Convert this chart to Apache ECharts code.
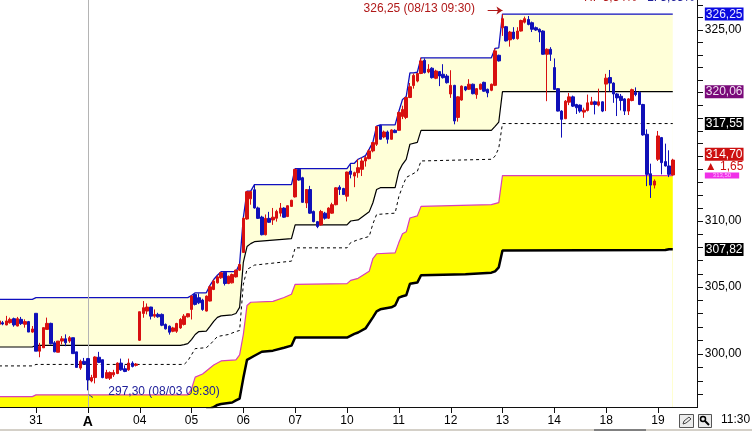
<!DOCTYPE html>
<html><head><meta charset="utf-8">
<style>html,body{margin:0;padding:0;background:#fff;overflow:hidden}#c{width:752px;height:431px}</style>
<script src="https://cdn.jsdelivr.net/npm/echarts@6/dist/echarts.min.js"></script>
</head><body><div id="c"></div>
<script>
const dayLabels=['31','A','04','05','06','07','10','11','12','13','14','18','19'];
const dayStartIndex=[10,24,38,52,66,80,94,108,122,136,150,164,178];
const slotCount=189;
// each bar: open, close, low, high
const ohlc=[
[302.19,302.44,302.1,302.6],[302.31,302.21,302.12,302.44],[302.14,302.44,302.12,302.82],[302.31,302.56,302.24,302.69],[302.61,302.14,302.01,302.69],[302.06,302.61,302.04,302.74],[302.56,302.24,302.14,302.74],[302.19,302.39,301.94,302.56],[302.39,301.61,301.61,302.44],[301.61,301.84,301.56,302.06],
[303.01,300.19,300.19,303.01],[300.19,300.56,299.74,300.81],[300.44,301.94,300.44,301.94],[301.81,302.26,301.81,302.69],[302.26,300.74,300.69,302.31],[300.81,300.14,300.11,300.94],[300.11,300.94,300.11,300.94],[300.94,301.11,300.69,301.31],[301.11,300.81,300.56,301.44],[300.94,301.19,300.81,301.31],[301.19,300.01,300.01,301.19],[300.14,298.99,298.99,300.14],[298.94,299.44,298.81,299.56],[299.44,299.24,299.19,299.69],
[299.64,298.06,297.3,299.69],[297.99,298.24,297.89,298.44],[298.24,299.76,297.81,299.81],[299.74,299.36,299.31,300.14],[299.56,298.24,298.19,299.56],[298.19,298.61,298.14,298.81],[298.19,298.61,298.06,298.69],[298.44,298.61,298.29,298.81],[298.54,299.31,298.49,299.36],[299.31,298.81,298.74,299.64],[298.89,298.69,298.64,299.14],[298.81,299.31,298.74,299.64],[299.31,299.06,298.99,299.44],[299.14,299.24,299.06,299.31],
[301.0,303.13,300.95,303.13],[303.0,303.43,302.68,303.93],[303.18,303.48,302.93,303.75],[303.48,302.8,302.55,303.5],[302.8,302.93,302.68,303.3],[302.93,302.75,302.68,303.05],[302.93,302.12,302.05,303.0],[302.18,301.85,301.8,302.25],[302.05,301.6,301.42,302.1],[301.67,301.92,301.6,302.0],[301.67,302.25,301.55,302.3],[301.92,302.55,301.85,302.65],[302.18,302.8,302.1,302.95],[302.75,302.98,302.7,303.0],
[303.3,304.3,302.55,304.35],[304.43,303.68,303.6,304.5],[304.18,303.8,303.7,304.5],[304.0,303.3,303.2,304.1],[303.18,304.3,303.15,304.35],[303.93,305.0,303.9,305.1],[304.8,305.43,304.75,305.55],[305.3,305.75,305.25,305.85],[305.68,306.06,305.6,306.1],[306.1,305.25,305.1,306.13],[305.25,305.8,305.2,305.85],[305.3,305.93,305.25,306.0],[305.75,306.26,305.7,306.3],[306.26,306.68,306.2,306.75],
[307.6,310.2,307.6,310.3],[310.15,312.25,310.1,312.3],[311.7,312.26,311.25,312.3],[312.4,311.0,310.95,312.8],[311.0,310.2,310.15,311.1],[310.3,308.95,308.9,310.4],[308.95,310.2,308.9,310.5],[310.2,309.9,309.85,310.7],[310.08,310.29,309.7,311.0],[310.21,310.73,309.95,310.86],[310.6,310.99,310.34,311.38],[310.99,310.29,310.25,311.05],[310.34,311.17,310.3,311.2],[311.12,311.59,311.1,311.63],
[311.85,313.98,311.8,314.0],[313.98,313.15,313.1,314.0],[313.33,311.43,311.4,313.4],[311.38,312.42,310.99,312.45],[312.42,310.6,310.55,312.7],[310.73,309.95,309.9,310.8],[309.95,309.57,309.45,310.0],[309.7,310.73,309.65,310.85],[310.6,310.21,310.1,310.7],[310.21,310.99,310.15,311.05],[310.6,311.25,310.55,311.4],[311.25,312.55,311.2,312.6],[312.6,312.42,312.0,312.75],[312.5,312.03,312.0,312.55],
[311.9,313.77,311.5,313.8],[313.85,313.59,313.28,314.37],[313.46,313.72,312.6,313.8],[313.72,314.11,313.33,314.76],[313.98,314.63,313.46,314.89],[314.63,314.89,314.19,315.02],[314.81,315.41,314.76,315.54],[315.41,316.06,315.3,316.1],[315.93,317.31,315.8,317.35],[317.41,316.32,316.3,317.45],[316.5,316.89,316.4,317.0],[316.89,316.32,315.98,317.0],[316.32,317.05,316.3,317.1],[317.02,316.84,316.8,317.1],
[317.02,318.42,317.0,318.5],[318.11,318.66,317.9,318.95],[318.03,319.6,317.9,319.65],[319.6,320.45,319.55,320.75],[320.55,321.35,320.3,321.5],[320.9,321.5,320.8,321.55],[321.5,322.5,321.45,322.75],[322.55,321.57,321.5,322.7],[321.62,321.84,321.52,322.24],[321.92,321.17,321.1,322.0],[321.12,321.7,321.05,321.8],[321.65,321.3,320.5,321.7],[321.44,321.17,321.1,322.24],[321.3,320.77,320.7,321.45],
[319.88,320.56,319.57,321.76],[320.56,317.75,317.49,320.6],[318.03,319.65,317.7,319.7],[319.4,320.5,319.35,320.55],[320.45,320.2,320.1,320.5],[320.25,320.65,320.2,321.05],[320.65,319.9,319.85,320.7],[319.83,320.3,319.5,320.35],[320.25,320.65,320.2,320.7],[320.8,320.1,320.05,320.85],[320.25,319.96,319.62,320.3],[320.17,320.65,320.1,320.7],[320.56,323.3,320.5,323.5],[322.95,322.5,322.45,323.0],
[325.15,325.88,324.5,326.25],[325.24,324.1,324.05,325.3],[324.18,324.81,323.64,324.9],[324.81,324.28,324.2,325.2],[324.28,324.89,324.2,325.2],[324.89,325.74,324.85,325.8],[325.6,325.88,325.5,326.05],[325.82,325.42,325.35,326.1],[325.56,325.03,324.81,325.65],[325.16,324.97,324.9,325.25],[325.03,324.81,324.0,325.1],[324.89,323.03,323.0,324.95],[323.03,323.43,319.31,323.5],[323.43,323.03,322.5,323.6],
[321.97,320.24,320.2,322.7],[320.3,318.53,318.5,320.35],[318.53,317.88,316.45,318.6],[317.93,319.31,317.9,319.4],[319.23,319.65,319.0,319.96],[319.65,318.92,318.85,319.75],[319.05,318.79,318.3,319.1],[319.0,318.53,318.4,319.05],[318.45,318.6,318.0,318.8],[318.58,319.18,318.5,319.83],[319.05,319.26,319.0,319.65],[319.26,319.05,318.27,319.35],[319.0,319.26,318.9,320.3],[319.26,318.53,318.45,319.3],
[320.66,321.13,318.53,321.47],[321.18,320.74,320.09,321.78],[320.74,319.88,319.18,320.8],[319.88,319.57,318.14,319.95],[319.7,319.36,318.58,319.88],[319.49,318.53,318.22,319.55],[318.53,319.49,318.22,319.55],[319.36,320.22,319.3,320.3],[320.01,319.83,319.7,320.4],[320.01,319.05,319.0,320.1],[319.05,316.66,316.6,319.1],[316.71,313.59,312.68,317.1],[313.64,312.76,311.77,314.42],[312.76,313.07,312.5,313.2],
[314.76,316.58,314.63,316.97],[316.45,314.5,313.59,316.5],[314.58,314.24,314.2,315.98],[314.24,313.59,313.38,315.46],[313.54,314.7,313.5,314.8]
];
// band lines: [bar index, price] at each corner of the line
const bandTop=[[0,304.06],[9,304.06],[10,304.19],[51,304.19],[52,304.35],[53,304.55],[56,304.55],[57,305.11],[58,305.55],[59,305.87],[60,306.14],[64,306.14],[65,306.75],[66,310.25],[67,312.3],[68,312.3],[69,312.8],[79,312.8],[80,314.03],[94,314.03],[95,314.45],[96,314.45],[97,314.76],[98,314.9],[99,315.05],[100,315.55],[101,316.1],[102,317.35],[103,317.45],[107,317.45],[108,318.5],[109,319.45],[110,319.68],[111,321.55],[112,321.55],[113,321.6],[114,322.75],[133,322.75],[134,323.5],[135,323.55],[136,326.25],[182,326.25]];
const bandMid=[[0,300.5],[9,300.5],[10,300.62],[49,300.62],[50,300.68],[51,300.75],[52,301.05],[53,301.43],[54,301.65],[56,301.68],[57,302.03],[58,302.41],[59,302.71],[60,302.82],[63,302.9],[64,303.0],[65,303.46],[66,306.84],[67,308.05],[68,308.27],[69,308.42],[79,308.65],[80,309.7],[94,309.7],[95,310.0],[97,310.08],[100,310.7],[101,311.4],[102,312.42],[103,312.56],[107,312.56],[108,313.82],[109,314.37],[110,314.76],[111,315.93],[113,316.08],[114,317.02],[133,317.02],[134,317.33],[135,317.67],[136,320.06],[182,320.06]];
const bandDash=[[0,299.1],[9,299.1],[10,299.21],[50,299.21],[51,299.47],[52,299.92],[53,300.38],[56,300.45],[57,300.68],[58,300.98],[59,301.28],[62,301.43],[64,301.65],[65,301.73],[66,305.19],[67,306.32],[68,306.47],[69,306.64],[79,306.94],[80,307.95],[94,307.95],[95,308.35],[97,308.57],[100,308.82],[101,309.78],[102,310.5],[107,310.6],[108,311.87],[109,312.65],[110,313.35],[113,313.82],[114,314.63],[133,314.76],[134,315.0],[135,315.62],[136,317.55],[182,317.55]];
const bandPink=[[0,296.84],[9,296.84],[10,296.97],[51,296.97],[52,297.4],[53,298.27],[55,298.5],[57,298.95],[58,299.17],[60,299.47],[64,299.55],[65,299.92],[66,301.43],[67,303.6],[68,303.84],[74,303.91],[77,304.2],[79,304.44],[80,305.19],[94,305.24],[95,305.49],[97,305.64],[100,306.17],[101,307.14],[102,307.5],[107,307.57],[108,308.35],[109,309.02],[110,309.17],[111,310.23],[113,310.39],[114,311.12],[133,311.25],[135,311.41],[136,313.5],[182,313.5]];
const bandLow=[[56,295.9],[57,295.97],[58,296.07],[59,296.23],[60,296.3],[63,296.41],[64,296.56],[65,296.7],[66,298.2],[67,299.55],[69,299.85],[71,300.15],[74,300.23],[77,300.45],[79,300.6],[80,301.2],[94,301.2],[96,301.47],[97,301.58],[99,301.88],[101,302.71],[102,303.16],[103,303.31],[106,303.46],[107,303.6],[108,304.19],[109,304.29],[110,304.36],[111,305.23],[113,305.32],[114,305.87],[126,305.94],[133,306.07],[134,306.17],[135,306.47],[136,307.75],[180,307.78],[181,307.85],[182,307.85]];
const priceTicks=[297,298,299,300,301,302,303,304,305,306,307,308,309,310,311,312,313,314,315,316,317,318,319,320,321,322,323,324,325,326,327];
const plainLabels=[300,305,310,325];
const markerLabels=[[326.25,'326,25','b'],[320.06,'320,06','p'],[317.55,'317,55','k'],[315.15,'314,70','r'],[314.2,'▲ 1,65','d'],[313.5,'313,50','m'],[307.82,'307,82','k']];
const highNote='326,25 (08/13 09:30)', lowNote='297,30 (08/03 09:30)', rangeHigh='H:  5,34%', rangeLow='L: 5,65%', clock='11:30';

const cats=[];for(let i=0;i<slotCount;i++){const k=dayStartIndex.indexOf(i);cats.push(k>=0?dayLabels[k]:'')}
const isDay=(i,v)=>v!=='';
const font='"Liberation Sans",Arial,sans-serif';
const candleRed='#D81010',candleBlue='#1010B8';
const chart=echarts.init(document.getElementById('c'),null,{renderer:'canvas'});
const band=(name,data,color,width,fill,z,dash)=>({name,type:'line',data,z,symbol:'none',showSymbol:false,silent:true,animation:false,
  lineStyle:{color,width,type:dash||'solid'},areaStyle:fill?{color:fill,opacity:1,origin:'start'}:undefined});
const labelOf=v=>{const m=markerLabels.find(x=>Math.abs(x[0]-v)<1e-6);if(m)return '{'+m[2]+'|'+m[1]+'}';return Number(v).toFixed(2).replace('.',',')};
chart.setOption({
 animation:false,
 grid:{left:-2.87,right:55.17,top:0,bottom:24,containLabel:false,outerBoundsMode:'none'},
 xAxis:{type:'category',data:cats,boundaryGap:true,z:20,
  axisLine:{show:false},
  axisTick:{show:false},
  axisLabel:{interval:isDay,color:'#000',fontFamily:font,fontSize:12,margin:8,hideOverlap:false,
   formatter:v=>v==='A'?'{a|A}':v,rich:{a:{fontWeight:'bold',fontSize:14,color:'#000',fontFamily:font}}},
  splitLine:{show:false}},
 yAxis:{type:'log',logBase:10,position:'right',offset:1,min:296.08,max:327.39,scale:true,z:20,
  axisLine:{show:false},
  axisTick:{show:false},
  axisLabel:{show:true,customValues:plainLabels.concat(markerLabels.map(m=>m[0])),color:'#000',fontFamily:font,fontSize:12,margin:7,hideOverlap:false,
   showMinLabel:true,showMaxLabel:true,formatter:labelOf,
   rich:{b:{backgroundColor:'#0A0AE0',color:'#E8E8FF',padding:[1,1,0,1],fontFamily:font,fontSize:12},
    p:{backgroundColor:'#7A0A7A',color:'#F0E0F0',padding:[1,1,0,1],fontFamily:font,fontSize:12},
    k:{backgroundColor:'#000',color:'#fff',padding:[1,1,0,1],fontFamily:font,fontSize:12},
    r:{backgroundColor:'#CC1010',color:'#fff',padding:[1,1,0,1],fontFamily:font,fontSize:12},
    d:{color:'#CC1010',fontFamily:font,fontSize:12},
    m:{backgroundColor:'#F030E8',color:'#FFC0FF',fontFamily:font,fontSize:6,lineHeight:5,padding:[0,8,0,8]}}},
  splitLine:{show:false},minorTick:{show:false},splitNumber:1},
 series:[
  band('top',bandTop,'#1010C0',1.3,'#FFFFD8',1),
  band('mid',bandMid,'#000',1.2,'#fff',2),
  band('pink',bandPink,'#D840B8',1.2,'#FFFF00',3),
  band('low',bandLow,'#000',2.5,'#fff',4),
  band('dash',bandDash,'#000',1,null,5,[3,3]),
  {name:'cross',type:'line',data:[],z:6,silent:true,clip:false,markLine:{silent:true,symbol:'none',label:{show:false},lineStyle:{color:'#B4B4B4',width:1,type:'solid'},animation:false,
    data:[{xAxis:24},
     [{x:697.5,y:0,lineStyle:{color:'#101010',width:1,type:'solid'}},{x:697.5,y:408}],
     [{x:0,y:407.5,lineStyle:{color:'#101010',width:1,type:'solid'}},{x:698,y:407.5}]]}},
  {name:'price',type:'candlestick',data:ohlc,z:7,silent:true,barWidth:3,
   itemStyle:{color:candleRed,color0:candleBlue,borderColor:candleRed,borderColor0:candleBlue,borderWidth:1},
   markLine:{silent:true,animation:false,label:{show:false},symbol:['none','arrow'],symbolSize:6,lineStyle:{color:'#B01818',width:1,type:'solid'},
     data:[[{coord:[132,326.55]},{coord:[136,326.55]}]]},
   markPoint:{silent:true,symbol:'circle',symbolSize:1,itemStyle:{color:'rgba(0,0,0,0)'},animation:false,data:[
     {coord:[136,326.65],label:{show:true,formatter:highNote,position:'left',distance:27,color:'#B01818',fontFamily:font,fontSize:12}},
     {coord:[24,297.2],label:{show:true,formatter:lowNote,position:'right',distance:20,color:'#20209A',fontFamily:font,fontSize:12}}]}}
 ]
});
// axis rules drawn through the chart's own scales
const axisX=697, axisY=407;
const rule=(x,y,w,h)=>({type:'rect',z:100,shape:{x,y,width:w,height:h},style:{fill:'#101010'},silent:true});
const gr=[rule(axisX,0,1,axisY+1),rule(0,axisY,axisX+1,1)];
priceTicks.forEach(p=>{const y=Math.round(chart.convertToPixel({yAxisIndex:0},p));gr.push(rule(axisX,y,6,1))});
dayStartIndex.forEach(i=>{const x=Math.round(chart.convertToPixel({xAxisIndex:0},i));gr.push(rule(x,axisY,1,6))});
const lp=chart.convertToPixel({xAxisIndex:0,yAxisIndex:0},[24,297.3]);
gr.push({type:'polyline',z:100,shape:{points:[[lp[0]+1,lp[1]+4],[lp[0]+3,lp[1]+6],[lp[0]+5,lp[1]+7]]},style:{fill:'none',stroke:'#20209A',lineWidth:1},silent:true});
gr.push(
  {type:'text',z:100,left:584,top:-8,style:{text:rangeHigh,fill:'#B01818',font:'12px '+font},silent:true},
  {type:'text',z:100,left:647,top:-8,style:{text:rangeLow,fill:'#20209A',font:'12px '+font},silent:true},
  {type:'rect',z:100,shape:{x:0,y:429,width:752,height:2},style:{fill:'#D4D0C8'},silent:true},
  {type:'rect',z:101,shape:{x:594,y:429,width:52,height:2},style:{fill:'#808080'},silent:true},
  {type:'rect',z:100,shape:{x:679.5,y:414.5,width:14,height:13},style:{fill:'#ECECEC',stroke:'#555',lineWidth:1},silent:true},
  {type:'polyline',z:101,shape:{points:[[683,424],[684,421],[689,417],[691,419],[686,423],[683,424]]},style:{fill:'none',stroke:'#444',lineWidth:1},silent:true},
  {type:'rect',z:100,shape:{x:698.5,y:414.5,width:13,height:13},style:{fill:'#ECECEC',stroke:'#555',lineWidth:1},silent:true},
  {type:'circle',z:101,shape:{cx:703,cy:419,r:2.5},style:{fill:'none',stroke:'#000',lineWidth:1.5},silent:true},
  {type:'line',z:101,shape:{x1:705,y1:421,x2:709,y2:425},style:{stroke:'#000',lineWidth:2},silent:true},
  {type:'text',z:100,left:721,top:414,style:{text:clock,fill:'#000',font:'12px '+font},silent:true}
);
chart.setOption({graphic:gr});
</script></body></html>
